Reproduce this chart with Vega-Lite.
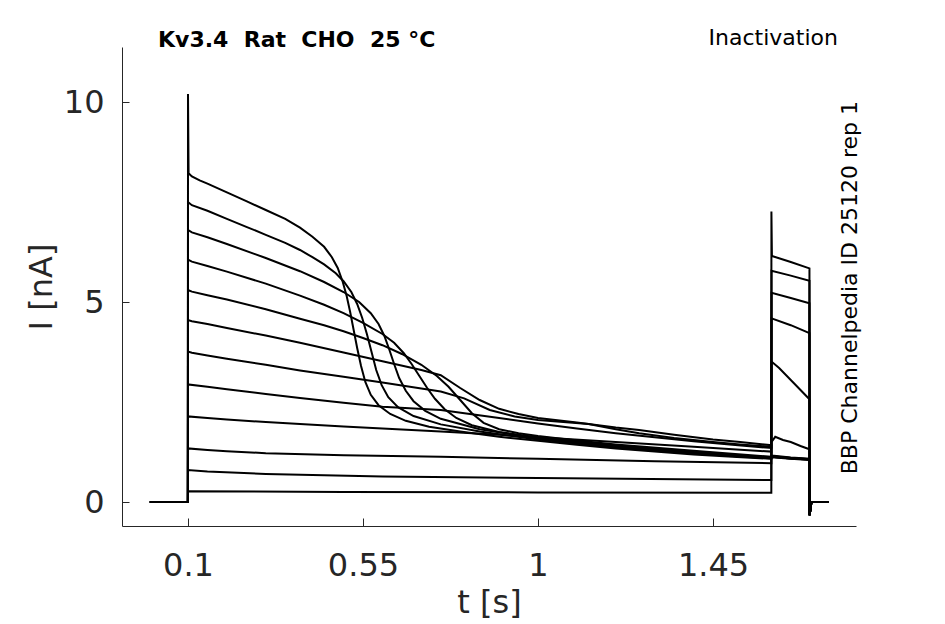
{
"$schema":"https://vega.github.io/schema/vega-lite/v6.json",
"width":734,"height":479,
"autosize":{"type":"none"},
"padding":{"left":122,"top":47,"right":89,"bottom":98},
"background":"white",
"config":{"view":{"stroke":null},"font":"DejaVu Sans"},
"datasets":{
"traces":[
{"s":1,"t":0.002,"v":0},{"s":1,"t":0.0998,"v":0},{"s":1,"t":0.1,"v":10.2},{"s":1,"t":0.1015,"v":8.22},{"s":1,"t":0.11,"v":8.14},{"s":1,"t":0.13,"v":8.04},{"s":1,"t":0.15,"v":7.96},{"s":1,"t":0.2,"v":7.74},{"s":1,"t":0.25,"v":7.52},{"s":1,"t":0.3,"v":7.3},{"s":1,"t":0.35,"v":7.08},{"s":1,"t":0.388,"v":6.86},{"s":1,"t":0.42,"v":6.63},{"s":1,"t":0.45,"v":6.38},{"s":1,"t":0.47,"v":6.12},{"s":1,"t":0.485,"v":5.85},{"s":1,"t":0.498,"v":5.5},{"s":1,"t":0.508,"v":5.15},{"s":1,"t":0.517,"v":4.75},{"s":1,"t":0.526,"v":4.3},{"s":1,"t":0.535,"v":3.85},{"s":1,"t":0.545,"v":3.4},{"s":1,"t":0.556,"v":3.0},{"s":1,"t":0.57,"v":2.68},{"s":1,"t":0.59,"v":2.42},{"s":1,"t":0.62,"v":2.2},{"s":1,"t":0.66,"v":2.03},{"s":1,"t":0.72,"v":1.88},{"s":1,"t":0.8,"v":1.76},{"s":1,"t":0.9,"v":1.63},{"s":1,"t":1.0,"v":1.53},{"s":1,"t":1.1,"v":1.43},{"s":1,"t":1.2,"v":1.34},{"s":1,"t":1.3,"v":1.26},{"s":1,"t":1.4,"v":1.19},{"s":1,"t":1.5,"v":1.13},{"s":1,"t":1.6,"v":1.08},{"s":1,"t":1.6005,"v":1.13},{"s":1,"t":1.65,"v":1.09},{"s":1,"t":1.698,"v":1.06},{"s":1,"t":1.6985,"v":-0.33},{"s":1,"t":1.703,"v":0},{"s":1,"t":1.748,"v":0},

{"s":2,"t":0.002,"v":0},{"s":2,"t":0.0998,"v":0},{"s":2,"t":0.1,"v":7.5},{"s":2,"t":0.11,"v":7.42},{"s":2,"t":0.15,"v":7.28},{"s":2,"t":0.2,"v":7.08},{"s":2,"t":0.25,"v":6.88},{"s":2,"t":0.3,"v":6.68},{"s":2,"t":0.35,"v":6.48},{"s":2,"t":0.388,"v":6.3},{"s":2,"t":0.42,"v":6.12},{"s":2,"t":0.45,"v":5.94},{"s":2,"t":0.48,"v":5.72},{"s":2,"t":0.5,"v":5.52},{"s":2,"t":0.52,"v":5.25},{"s":2,"t":0.535,"v":4.95},{"s":2,"t":0.548,"v":4.6},{"s":2,"t":0.56,"v":4.2},{"s":2,"t":0.572,"v":3.75},{"s":2,"t":0.584,"v":3.3},{"s":2,"t":0.598,"v":2.92},{"s":2,"t":0.615,"v":2.62},{"s":2,"t":0.64,"v":2.37},{"s":2,"t":0.68,"v":2.15},{"s":2,"t":0.75,"v":1.94},{"s":2,"t":0.85,"v":1.76},{"s":2,"t":1.0,"v":1.56},{"s":2,"t":1.2,"v":1.36},{"s":2,"t":1.4,"v":1.21},{"s":2,"t":1.6,"v":1.09},{"s":2,"t":1.6005,"v":1.12},{"s":2,"t":1.65,"v":1.08},{"s":2,"t":1.698,"v":1.05},{"s":2,"t":1.6985,"v":-0.33},{"s":2,"t":1.703,"v":0},{"s":2,"t":1.748,"v":0},

{"s":3,"t":0.002,"v":0},{"s":3,"t":0.0998,"v":0},{"s":3,"t":0.1,"v":6.8},{"s":3,"t":0.11,"v":6.74},{"s":3,"t":0.15,"v":6.62},{"s":3,"t":0.2,"v":6.45},{"s":3,"t":0.3,"v":6.1},{"s":3,"t":0.388,"v":5.77},{"s":3,"t":0.45,"v":5.5},{"s":3,"t":0.5,"v":5.25},{"s":3,"t":0.54,"v":5.0},{"s":3,"t":0.57,"v":4.72},{"s":3,"t":0.59,"v":4.45},{"s":3,"t":0.605,"v":4.15},{"s":3,"t":0.618,"v":3.8},{"s":3,"t":0.63,"v":3.45},{"s":3,"t":0.643,"v":3.1},{"s":3,"t":0.66,"v":2.78},{"s":3,"t":0.68,"v":2.52},{"s":3,"t":0.71,"v":2.28},{"s":3,"t":0.75,"v":2.08},{"s":3,"t":0.85,"v":1.82},{"s":3,"t":1.0,"v":1.59},{"s":3,"t":1.2,"v":1.39},{"s":3,"t":1.4,"v":1.23},{"s":3,"t":1.6,"v":1.1},{"s":3,"t":1.6005,"v":1.13},{"s":3,"t":1.65,"v":1.09},{"s":3,"t":1.698,"v":1.06},{"s":3,"t":1.6985,"v":-0.33},{"s":3,"t":1.703,"v":0},{"s":3,"t":1.748,"v":0},

{"s":4,"t":0.002,"v":0},{"s":4,"t":0.0998,"v":0},{"s":4,"t":0.1,"v":6.06},{"s":4,"t":0.11,"v":6.01},{"s":4,"t":0.15,"v":5.9},{"s":4,"t":0.2,"v":5.76},{"s":4,"t":0.3,"v":5.46},{"s":4,"t":0.388,"v":5.16},{"s":4,"t":0.45,"v":4.93},{"s":4,"t":0.5,"v":4.72},{"s":4,"t":0.55,"v":4.48},{"s":4,"t":0.6,"v":4.2},{"s":4,"t":0.63,"v":3.98},{"s":4,"t":0.655,"v":3.72},{"s":4,"t":0.675,"v":3.45},{"s":4,"t":0.695,"v":3.15},{"s":4,"t":0.715,"v":2.85},{"s":4,"t":0.735,"v":2.58},{"s":4,"t":0.76,"v":2.32},{"s":4,"t":0.79,"v":2.1},{"s":4,"t":0.83,"v":1.92},{"s":4,"t":0.9,"v":1.75},{"s":4,"t":1.0,"v":1.61},{"s":4,"t":1.2,"v":1.41},{"s":4,"t":1.4,"v":1.25},{"s":4,"t":1.6,"v":1.11},{"s":4,"t":1.6005,"v":1.14},{"s":4,"t":1.65,"v":1.1},{"s":4,"t":1.698,"v":1.07},{"s":4,"t":1.6985,"v":-0.33},{"s":4,"t":1.703,"v":0},{"s":4,"t":1.748,"v":0},

{"s":5,"t":0.002,"v":0},{"s":5,"t":0.0998,"v":0},{"s":5,"t":0.1,"v":5.3},{"s":5,"t":0.11,"v":5.26},{"s":5,"t":0.15,"v":5.17},{"s":5,"t":0.2,"v":5.06},{"s":5,"t":0.3,"v":4.82},{"s":5,"t":0.388,"v":4.58},{"s":5,"t":0.45,"v":4.42},{"s":5,"t":0.5,"v":4.27},{"s":5,"t":0.55,"v":4.1},{"s":5,"t":0.6,"v":3.92},{"s":5,"t":0.65,"v":3.7},{"s":5,"t":0.7,"v":3.43},{"s":5,"t":0.74,"v":3.15},{"s":5,"t":0.77,"v":2.88},{"s":5,"t":0.8,"v":2.55},{"s":5,"t":0.83,"v":2.22},{"s":5,"t":0.86,"v":1.98},{"s":5,"t":0.9,"v":1.82},{"s":5,"t":0.95,"v":1.72},{"s":5,"t":1.0,"v":1.65},{"s":5,"t":1.1,"v":1.54},{"s":5,"t":1.2,"v":1.44},{"s":5,"t":1.4,"v":1.28},{"s":5,"t":1.6,"v":1.13},{"s":5,"t":1.6005,"v":1.15},{"s":5,"t":1.65,"v":1.1},{"s":5,"t":1.698,"v":1.07},{"s":5,"t":1.6985,"v":-0.33},{"s":5,"t":1.703,"v":0},{"s":5,"t":1.748,"v":0},

{"s":6,"t":0.002,"v":0},{"s":6,"t":0.0998,"v":0},{"s":6,"t":0.1,"v":4.55},{"s":6,"t":0.11,"v":4.52},{"s":6,"t":0.15,"v":4.45},{"s":6,"t":0.2,"v":4.35},{"s":6,"t":0.3,"v":4.16},{"s":6,"t":0.388,"v":3.98},{"s":6,"t":0.5,"v":3.74},{"s":6,"t":0.6,"v":3.52},{"s":6,"t":0.7,"v":3.3},{"s":6,"t":0.75,"v":3.17},{"s":6,"t":0.8,"v":2.85},{"s":6,"t":0.85,"v":2.55},{"s":6,"t":0.9,"v":2.33},{"s":6,"t":0.95,"v":2.2},{"s":6,"t":1.0,"v":2.1},{"s":6,"t":1.1,"v":1.99},{"s":6,"t":1.2,"v":1.86},{"s":6,"t":1.26,"v":1.8},{"s":6,"t":1.35,"v":1.68},{"s":6,"t":1.45,"v":1.56},{"s":6,"t":1.52,"v":1.5},{"s":6,"t":1.6,"v":1.42},{"s":6,"t":1.6005,"v":1.16},{"s":6,"t":1.65,"v":1.11},{"s":6,"t":1.698,"v":1.08},{"s":6,"t":1.6985,"v":-0.33},{"s":6,"t":1.703,"v":0},{"s":6,"t":1.748,"v":0},

{"s":7,"t":0.002,"v":0},{"s":7,"t":0.0998,"v":0},{"s":7,"t":0.1,"v":3.76},{"s":7,"t":0.11,"v":3.73},{"s":7,"t":0.15,"v":3.66},{"s":7,"t":0.2,"v":3.58},{"s":7,"t":0.3,"v":3.43},{"s":7,"t":0.388,"v":3.29},{"s":7,"t":0.5,"v":3.13},{"s":7,"t":0.6,"v":2.99},{"s":7,"t":0.7,"v":2.84},{"s":7,"t":0.75,"v":2.76},{"s":7,"t":0.81,"v":2.59},{"s":7,"t":0.876,"v":2.3},{"s":7,"t":0.94,"v":2.14},{"s":7,"t":1.0,"v":2.05},{"s":7,"t":1.13,"v":1.95},{"s":7,"t":1.2,"v":1.82},{"s":7,"t":1.26,"v":1.72},{"s":7,"t":1.35,"v":1.6},{"s":7,"t":1.45,"v":1.5},{"s":7,"t":1.52,"v":1.44},{"s":7,"t":1.6,"v":1.38},{"s":7,"t":1.6005,"v":1.5},{"s":7,"t":1.61,"v":1.63},{"s":7,"t":1.63,"v":1.55},{"s":7,"t":1.65,"v":1.5},{"s":7,"t":1.675,"v":1.4},{"s":7,"t":1.698,"v":1.32},{"s":7,"t":1.6985,"v":-0.33},{"s":7,"t":1.703,"v":0},{"s":7,"t":1.748,"v":0},

{"s":8,"t":0.002,"v":0},{"s":8,"t":0.0998,"v":0},{"s":8,"t":0.1,"v":2.94},{"s":8,"t":0.15,"v":2.88},{"s":8,"t":0.2,"v":2.82},{"s":8,"t":0.3,"v":2.7},{"s":8,"t":0.388,"v":2.6},{"s":8,"t":0.5,"v":2.48},{"s":8,"t":0.6,"v":2.38},{"s":8,"t":0.75,"v":2.3},{"s":8,"t":0.9,"v":2.1},{"s":8,"t":1.0,"v":1.96},{"s":8,"t":1.1,"v":1.84},{"s":8,"t":1.2,"v":1.72},{"s":8,"t":1.3,"v":1.62},{"s":8,"t":1.4,"v":1.52},{"s":8,"t":1.5,"v":1.43},{"s":8,"t":1.6,"v":1.35},{"s":8,"t":1.6005,"v":3.51},{"s":8,"t":1.62,"v":3.35},{"s":8,"t":1.65,"v":3.05},{"s":8,"t":1.675,"v":2.8},{"s":8,"t":1.698,"v":2.57},{"s":8,"t":1.6985,"v":-0.33},{"s":8,"t":1.703,"v":0},{"s":8,"t":1.748,"v":0},

{"s":9,"t":0.002,"v":0},{"s":9,"t":0.0998,"v":0},{"s":9,"t":0.1,"v":2.14},{"s":9,"t":0.15,"v":2.1},{"s":9,"t":0.2,"v":2.06},{"s":9,"t":0.3,"v":2.0},{"s":9,"t":0.388,"v":1.95},{"s":9,"t":0.5,"v":1.89},{"s":9,"t":0.6,"v":1.84},{"s":9,"t":0.75,"v":1.76},{"s":9,"t":0.9,"v":1.68},{"s":9,"t":1.0,"v":1.62},{"s":9,"t":1.2,"v":1.5},{"s":9,"t":1.4,"v":1.38},{"s":9,"t":1.6,"v":1.26},{"s":9,"t":1.6005,"v":4.59},{"s":9,"t":1.65,"v":4.42},{"s":9,"t":1.698,"v":4.22},{"s":9,"t":1.6985,"v":-0.33},{"s":9,"t":1.703,"v":0},{"s":9,"t":1.748,"v":0},

{"s":10,"t":0.002,"v":0},{"s":10,"t":0.0998,"v":0},{"s":10,"t":0.1,"v":1.34},{"s":10,"t":0.15,"v":1.3},{"s":10,"t":0.2,"v":1.27},{"s":10,"t":0.3,"v":1.22},{"s":10,"t":0.5,"v":1.17},{"s":10,"t":0.75,"v":1.13},{"s":10,"t":1.0,"v":1.08},{"s":10,"t":1.3,"v":1.02},{"s":10,"t":1.6,"v":0.97},{"s":10,"t":1.6005,"v":5.23},{"s":10,"t":1.65,"v":5.1},{"s":10,"t":1.698,"v":4.97},{"s":10,"t":1.6985,"v":-0.33},{"s":10,"t":1.703,"v":0},{"s":10,"t":1.748,"v":0},

{"s":11,"t":0.002,"v":0},{"s":11,"t":0.0998,"v":0},{"s":11,"t":0.1,"v":0.8},{"s":11,"t":0.15,"v":0.76},{"s":11,"t":0.3,"v":0.7},{"s":11,"t":0.6,"v":0.64},{"s":11,"t":1.0,"v":0.6},{"s":11,"t":1.6,"v":0.55},{"s":11,"t":1.6005,"v":5.78},{"s":11,"t":1.65,"v":5.66},{"s":11,"t":1.698,"v":5.53},{"s":11,"t":1.6985,"v":-0.33},{"s":11,"t":1.703,"v":0},{"s":11,"t":1.748,"v":0},

{"s":12,"t":0.002,"v":0},{"s":12,"t":0.0998,"v":0},{"s":12,"t":0.1,"v":0.27},{"s":12,"t":0.5,"v":0.25},{"s":12,"t":1.0,"v":0.24},{"s":12,"t":1.6,"v":0.23},{"s":12,"t":1.6002,"v":7.26},{"s":12,"t":1.6015,"v":6.15},{"s":12,"t":1.65,"v":6.0},{"s":12,"t":1.698,"v":5.84},{"s":12,"t":1.6985,"v":-0.33},{"s":12,"t":1.703,"v":0},{"s":12,"t":1.748,"v":0}
]},
"layer":[
{"data":{"name":"traces"},
 "mark":{"type":"line","color":"black","strokeWidth":2,"clip":false},
 "encoding":{
  "x":{"field":"t","type":"quantitative","scale":{"domain":[-0.0697,1.8177],"nice":false,"zero":false},
   "axis":{"values":[0.1,0.55,1,1.45],"format":".3~g","title":"t [s]","grid":false,"labelFontSize":32,"titleFontSize":32,"titleFontWeight":"normal","tickSize":-8,"labelPadding":32,"titlePadding":6,"domainColor":"#262626","tickColor":"#262626","labelColor":"#262626","titleColor":"#262626","labelFont":"DejaVu Sans","titleFont":"DejaVu Sans"}},
  "y":{"field":"v","type":"quantitative","scale":{"domain":[-0.6,11.375],"nice":false,"zero":false},
   "axis":{"values":[0,5,10],"format":".3~g","title":"I [nA]","grid":false,"labelFontSize":32,"titleFontSize":32,"titleFontWeight":"normal","tickSize":-7,"labelPadding":25,"titlePadding":5,"domainColor":"#262626","tickColor":"#262626","labelColor":"#262626","titleColor":"#262626","labelFont":"DejaVu Sans","titleFont":"DejaVu Sans"}},
  "detail":{"field":"s","type":"nominal"}}},
{"data":{"values":[{"t":0.0229,"v":11.375,"txt":"Kv3.4\u00a0 Rat\u00a0 CHO\u00a0 25 °C"}]},
 "mark":{"type":"text","font":"DejaVu Sans","fontWeight":"bold","fontSize":22,"align":"left","baseline":"alphabetic","color":"black","clip":false},
 "encoding":{"x":{"field":"t","type":"quantitative","scale":{"domain":[-0.0697,1.8177],"nice":false,"zero":false}},"y":{"field":"v","type":"quantitative","scale":{"domain":[-0.6,11.375],"nice":false,"zero":false}},"text":{"field":"txt"}}},
{"data":{"values":[{"t":1.7714,"v":11.43,"txt":"Inactivation"}]},
 "mark":{"type":"text","font":"DejaVu Sans","fontSize":22,"align":"right","baseline":"alphabetic","color":"black","clip":false},
 "encoding":{"x":{"field":"t","type":"quantitative","scale":{"domain":[-0.0697,1.8177],"nice":false,"zero":false}},"y":{"field":"v","type":"quantitative","scale":{"domain":[-0.6,11.375],"nice":false,"zero":false}},"text":{"field":"txt"}}},
{"data":{"values":[{"t":1.8195,"v":5.36,"txt":"BBP Channelpedia ID 25120 rep 1"}]},
 "mark":{"type":"text","font":"DejaVu Sans","fontSize":22,"align":"center","baseline":"alphabetic","angle":270,"color":"black","clip":false},
 "encoding":{"x":{"field":"t","type":"quantitative","scale":{"domain":[-0.0697,1.8177],"nice":false,"zero":false}},"y":{"field":"v","type":"quantitative","scale":{"domain":[-0.6,11.375],"nice":false,"zero":false}},"text":{"field":"txt"}}}
]
}
